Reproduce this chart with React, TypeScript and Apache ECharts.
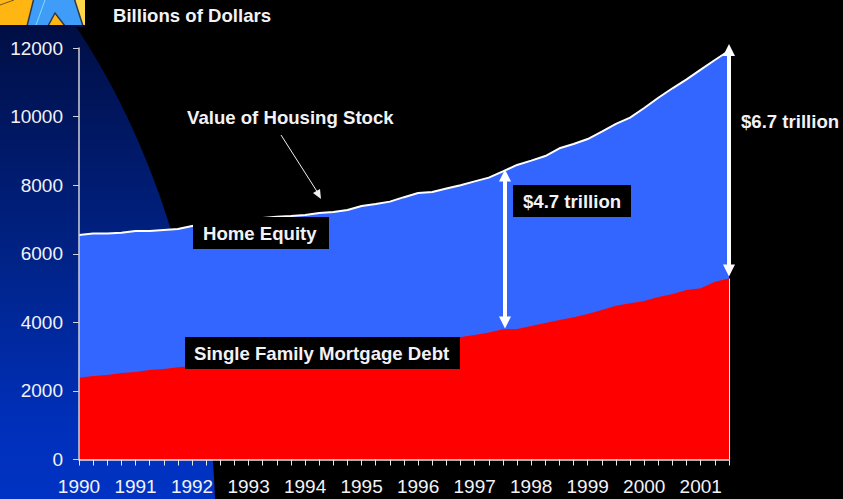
import React, { useEffect, useRef } from "react";
import * as echarts from "echarts";

const years = ["1990","1991","1992","1993","1994","1995","1996","1997","1998","1999","2000","2001"];
const quarters = ["Q1","Q2","Q3","Q4"];
const categories = years.flatMap((y) => quarters.map((q) => `${y} ${q}`)).slice(0, 47);
const tickLabels = (c: string) => c.split(" ")[0];

const housingStock = [
  6550,6590,6590,6610,6660,6660,6690,6720,6810,6860,6910,6960,7000,7040,7080,7100,
  7130,7190,7220,7275,7390,7450,7520,7650,7770,7800,7900,8000,8110,8220,8400,8590,
  8715,8850,9075,9200,9345,9560,9785,9970,10250,10550,10825,11085,11370,11650,11920,
];
const mortgageDebt = [
  2385,2435,2465,2520,2550,2610,2640,2690,2730,2760,2790,2810,2840,2880,2920,2950,
  2990,3030,3080,3130,3180,3230,3290,3340,3400,3460,3510,3570,3630,3700,3800,3805,
  3895,3980,4070,4150,4240,4360,4480,4560,4620,4740,4825,4940,4995,5180,5275,
];
const yTicks = { min: 0, max: 12000, interval: 2000 };
const arrow47 = { index: 30, low: 3995, high: 8280, x: 505 };
const arrow67 = { index: 46, low: 5510, high: 11940, x: 729 };

const FONT = "'Liberation Sans', Arial, sans-serif";
const TEXT = "#f2f2f6";

echarts.graphic.registerShape("bgSwoosh", echarts.graphic.extendPath("M0 25 L75 25 C125 100 205 250 215 499 L0 499 Z", {}));

const label = (text: string, x: number, y: number) => ({
  type: "text", x, y, z: 101,
  style: { text, fill: TEXT, font: `bold 18.6px ${FONT}`, textVerticalAlign: "middle", textBaseline: "middle" },
});
const box = (x: number, y: number, width: number, height: number) => ({
  type: "rect", z: 100, shape: { x, y, width, height }, style: { fill: "#000" },
});

const option: any = {
  animation: false,
  backgroundColor: "#000",
  grid: { left: 79, right: 114, top: 48, bottom: 39.5, containLabel: false },
  textStyle: { fontFamily: FONT },
  xAxis: {
    type: "category", data: categories, boundaryGap: false, z: 3,
    axisLine: { lineStyle: { color: "#e6e6e6", width: 1.5 } },
    axisTick: { show: true, length: 6, interval: 0, lineStyle: { color: "#e6e6e6", width: 1 } },
    axisLabel: { interval: 3, color: TEXT, fontSize: 19, fontFamily: FONT, margin: 17, formatter: tickLabels },
    splitLine: { show: false },
  },
  yAxis: {
    type: "value", ...yTicks, z: 3,
    axisLine: { show: true, lineStyle: { color: "#d0d0d8", width: 1.5 } },
    axisTick: { show: true, length: 6, lineStyle: { color: "#d0d0d8", width: 1 } },
    axisLabel: { color: TEXT, fontSize: 19, fontFamily: FONT, margin: 16, formatter: (v: number) => String(v) },
    splitLine: { show: false },
  },
  series: [
    {
      name: "Value of Housing Stock", type: "line", data: housingStock, showSymbol: false, z: 2, clip: false,
      lineStyle: { color: "#fff", width: 2 }, areaStyle: { color: "#3366ff", opacity: 1 },
      markLine: {
        silent: true, symbol: ["triangle", "triangle"], symbolSize: 12, z: 6, label: { show: false },
        lineStyle: { color: "#fff", width: 4, type: "solid" },
        data: [arrow47, arrow67].map((a) => [
          { coord: [categories[a.index], a.high], x: a.x },
          { coord: [categories[a.index], a.low], x: a.x },
        ]),
      },
    },
    {
      name: "Single Family Mortgage Debt", type: "line", data: mortgageDebt, showSymbol: false, z: 3,
      lineStyle: { width: 0 }, areaStyle: { color: "#ff0000", opacity: 1 },
      markLine: {
        silent: true, symbol: "none", z: 4, label: { show: false },
        lineStyle: { color: "#eeeeee", width: 1, type: "solid" },
        data: [[{ coord: [categories[46], 0] }, { coord: [categories[46], mortgageDebt[46]] }]],
      },
    },
  ],
  graphic: [
    {
      type: "bgSwoosh", x: 0, y: 0, z: 0,
      style: {
        fill: new echarts.graphic.LinearGradient(0, 0, 0, 1, [
          { offset: 0, color: "#000e44" },
          { offset: 0.5, color: "#002388" },
          { offset: 0.85, color: "#0030bb" },
          { offset: 1, color: "#0033c4" },
        ]),
      },
    },
    { type: "rect", z: 1, shape: { x: 0, y: 0, width: 85, height: 25 }, style: { fill: "#ffb612" } },
    { type: "rect", z: 1, shape: { x: 76, y: 0, width: 9, height: 25 }, style: { fill: "#ffd84a" } },
    { type: "polygon", z: 1, shape: { points: [[27,26],[34,-2],[74,-2],[83,26],[65,26],[55,13],[48,26]] }, style: { fill: "#3f9cf8", stroke: "#2c3a50", lineWidth: 1.5 } },
    { type: "rect", z: 1, shape: { x: 0, y: 25, width: 85, height: 2 }, style: { fill: "#000e44" } },
    { type: "line", z: 1, shape: { x1: 36, y1: 25, x2: 45, y2: 0 }, style: { stroke: "#7fe0f0", lineWidth: 1 } },
    { type: "line", z: 1, shape: { x1: 0, y1: 5, x2: 14, y2: 0 }, style: { stroke: "#6b5a20", lineWidth: 1 } },
    { type: "line", z: 90, shape: { x1: 281, y1: 135, x2: 318, y2: 193 }, style: { stroke: "#f0f0f0", lineWidth: 1 } },
    { type: "polygon", z: 90, shape: { points: [[321,199],[313,193],[320,189]] }, style: { fill: "#f0f0f0" } },
    box(193, 217, 136, 32),
    box(185, 337, 275, 32),
    box(513, 185, 118, 32),
    label("Billions of Dollars", 113, 15),
    label("Value of Housing Stock", 187, 117),
    label("Home Equity", 203, 233),
    label("Single Family Mortgage Debt", 194, 353),
    label("$4.7 trillion", 523, 201),
    label("$6.7 trillion", 741, 121),
  ],
};

export default function App() {
  const ref = useRef<HTMLDivElement>(null);
  useEffect(() => {
    document.body.style.margin = "0";
    const chart = echarts.init(ref.current!, undefined, { renderer: "svg" });
    chart.setOption(option);
    return () => chart.dispose();
  }, []);
  return <div ref={ref} style={{ width: 843, height: 499 }} />;
}
